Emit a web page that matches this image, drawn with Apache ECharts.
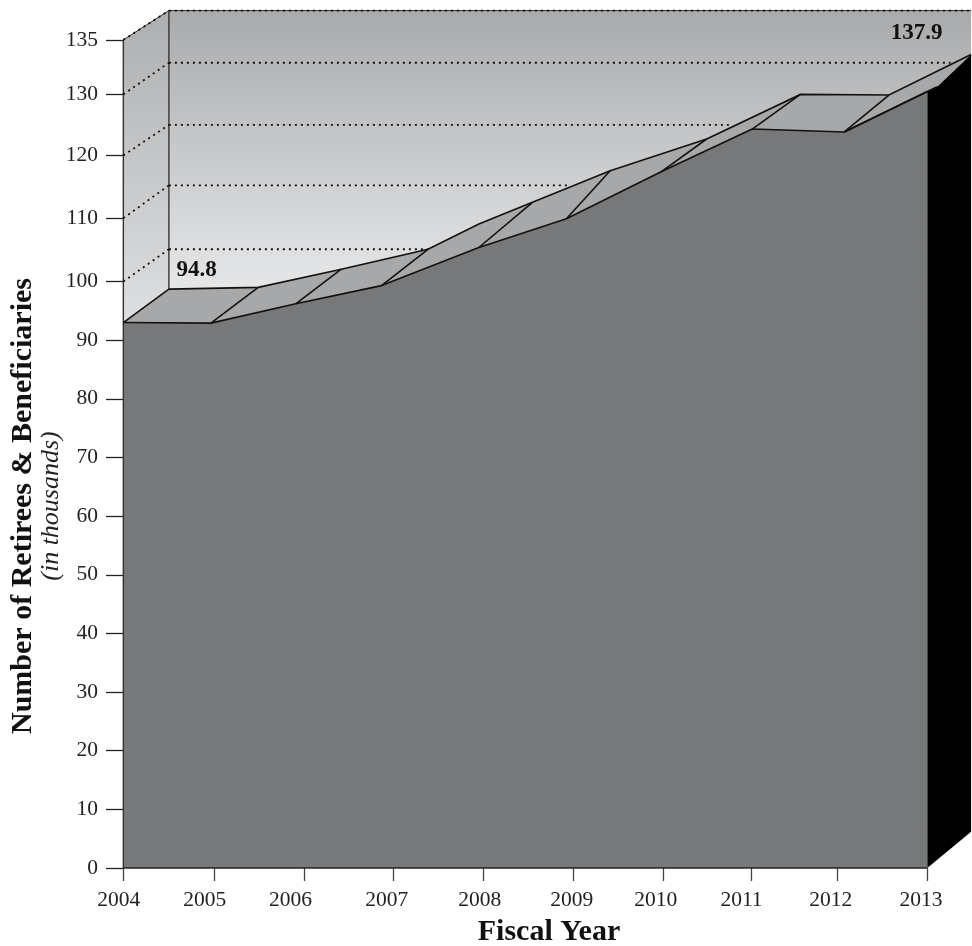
<!DOCTYPE html>
<html><head><meta charset="utf-8">
<style>html,body{margin:0;padding:0;background:#fff}#c{width:972px;height:946px}</style>
<script src="https://cdn.jsdelivr.net/npm/echarts@6/dist/echarts.min.js"></script>
</head><body><div id="c"></div>
<script>
// x unit = fiscal year position, y unit = drawn height on the chart's pseudo-3D axis
const frontEdge = [[2004,93.0],[2004.98,92.9],[2005.93,96.2],[2006.89,99.3],[2007.98,105.8],[2008.96,110.7],[2010.02,118.7],[2011.04,126.0],[2012.07,125.5],[2013,132.4]];
const frontEdgeTail = [[2013.11,133.2],[2013.49,138.7]];
const backEdge = [[2004.51,98.7],[2005.51,99.0],[2006.44,102.1],[2007.41,105.5],[2007.98,109.8],[2008.58,113.5],[2009.45,118.9],[2010.53,124.3],[2011.58,131.9],[2012.57,131.8],[2013.49,138.7]];
const rungs = [[[2004,93.0],[2004.51,98.7]],[[2004.98,92.9],[2005.51,99.0]],[[2005.93,96.2],[2006.44,102.1]],[[2006.89,99.3],[2007.41,105.5]],[[2007.98,105.8],[2008.58,113.5]],[[2008.96,110.7],[2009.45,118.9]],[[2010.02,118.7],[2010.53,124.3]],[[2011.04,126.0],[2011.58,131.9]],[[2012.07,125.5],[2012.57,131.8]]];
const wallX = 2004.51, wallTop = 146.2, rightX = 2013.49;
const yTickPos = [0,10,20,30,40,50,60,70,80,90,100,110.8,121.5,131.9,141.2];
const yTickText = ['0','10','20','30','40','50','60','70','80','90','100','110','120','130','135'];
const backGrid = [[141.2,146.2,2013.49],[131.9,137.3,2013.26],[121.5,126.7,2010.82],[110.8,116.4,2008.99],[100,105.5,2007.41]];
const xTickPos = [2004,2005.017,2006.02,2007.026,2008.032,2009.04,2010.04,2011.025,2011.994,2013];
const xLabelPos = [2003.95,2004.91,2005.87,2006.95,2007.99,2009.02,2009.96,2010.92,2011.92,2012.93];
const years = ['2004','2005','2006','2007','2008','2009','2010','2011','2012','2013'];
const valueLabels = [[2004.82,102,'94.8'],[2012.88,142.4,'137.9']];

const serif = '"Liberation Serif", serif';
const chart = echarts.init(document.getElementById('c'), null, {renderer:'canvas'});
const G = echarts.graphic;
const LINE = '#111';

function renderWalls(p, api){
  const c = a => api.coord(a);
  const back = backEdge.map(c);
  const frontAll = frontEdge.concat(frontEdgeTail).map(c);
  const wall = [c([wallX,wallTop]),c([rightX,wallTop])].concat(back.slice().reverse());
  const left = [c([2004,141.2]),c([wallX,wallTop]),c([wallX,98.7]),c([2004,93.0])];
  const ribbon = frontAll.concat(back.slice().reverse());
  const ch = [];
  ch.push({type:'polygon',shape:{points:wall},style:{fill:new G.LinearGradient(0,0,0,1,[{offset:0,color:'#a9aaac'},{offset:1,color:'#e6e7e8'}])}});
  ch.push({type:'polygon',shape:{points:left},style:{fill:new G.LinearGradient(0,0,0,1,[{offset:0,color:'#aeafb1'},{offset:1,color:'#dedfe0'}])}});
  ch.push({type:'polygon',shape:{points:ribbon},style:{fill:'#a7a8aa'}});
  return {type:'group',children:ch};
}
function renderLines(p, api){
  const c = a => api.coord(a);
  const ch = [];
  const seg = (a,b,w,col,dash) => ch.push({type:'line',shape:{x1:a[0],y1:a[1],x2:b[0],y2:b[1]},style:{stroke:col||LINE,lineWidth:w,lineDash:dash||null}});
  const dots = [2,4];
  // wall edges
  seg(c([2004,141.2]),c([wallX,wallTop]),1,'#333');
  seg(c([wallX,wallTop]),c([rightX,wallTop]),1,'#333');
  seg(c([wallX,wallTop]),c([wallX,98.7]),1.4,'#333');
  seg(c([2004,0]),c([2004,141.2]),1.4,'#333');
  seg(c([2004,0]),c([2013,0]),1.6,'#222');
  backGrid.forEach(g=>{
    seg(c([2004,g[0]]),c([wallX,g[1]]),1.8,'#111',dots);
    seg(c([wallX,g[1]]),c([g[2],g[1]]),1.8,'#111',dots);
  });
  // black side
  ch.push({type:'polygon',shape:{points:[c([2013,132.4]),c(frontEdgeTail[0]),c(frontEdgeTail[1]),c([rightX,6.2]),c([2013,0])]},style:{fill:'#000'}});
  // ribbon outlines
  ch.push({type:'polyline',shape:{points:backEdge.map(c)},style:{stroke:LINE,lineWidth:1.6,fill:'none'}});
  seg(c([2012.07,125.5]),c(frontEdgeTail[0]),1.6);
  rungs.forEach(r=>seg(c(r[0]),c(r[1]),1.6));
  return {type:'group',children:ch};
}

chart.setOption({
  animation:false,
  grid:{left:101,right:-1,top:0,bottom:78,containLabel:false},
  xAxis:{type:'value',min:2003.75,max:2013.5,splitLine:{show:false},axisLine:{show:false},
    axisTick:{show:true,length:13,customValues:xTickPos,lineStyle:{color:'#444',width:1.3}},
    axisLabel:{show:true,customValues:xLabelPos,margin:21,color:'#222',fontFamily:serif,fontSize:21.5,
      formatter:v=>years[xLabelPos.indexOf(v)]}},
  yAxis:{type:'value',min:0,max:148,offset:-22,splitLine:{show:false},axisLine:{show:false},
    axisTick:{show:true,length:17,customValues:yTickPos,lineStyle:{color:'#222',width:1.3}},
    axisLabel:{show:true,customValues:yTickPos,margin:25,color:'#222',fontFamily:serif,fontSize:21.5,
      formatter:v=>yTickText[yTickPos.indexOf(v)]}},
  graphic:[
    {type:'text',x:549,y:932,z:10,style:{text:'Fiscal Year',font:'bold 30px '+serif,fill:'#111',align:'center',verticalAlign:'middle'}},
    {type:'text',x:23,y:506,rotation:Math.PI/2,z:10,style:{text:'Number of Retirees & Beneficiaries',font:'bold 30px '+serif,fill:'#111',align:'center',verticalAlign:'middle'}},
    {type:'text',x:51,y:506,rotation:Math.PI/2,z:10,style:{text:'(in thousands)',font:'italic 26px '+serif,fill:'#222',align:'center',verticalAlign:'middle'}}
  ],
  series:[
    {type:'custom',z:1,coordinateSystem:'cartesian2d',clip:false,silent:true,data:[[2004,0]],renderItem:renderWalls},
    {type:'line',z:2,data:frontEdge,showSymbol:false,symbol:'none',clip:false,silent:true,
      lineStyle:{color:LINE,width:1.6},areaStyle:{color:'#77787a',opacity:1}},
    {type:'custom',z:3,coordinateSystem:'cartesian2d',clip:false,silent:true,data:[[2004,0]],renderItem:renderLines},
    {type:'scatter',z:4,symbolSize:0,silent:true,clip:false,data:valueLabels,itemStyle:{opacity:1},
      label:{show:true,position:'inside',formatter:p=>p.value[2],fontFamily:serif,fontWeight:'bold',fontSize:23,color:'#111',opacity:1}}
  ]
});
</script></body></html>
